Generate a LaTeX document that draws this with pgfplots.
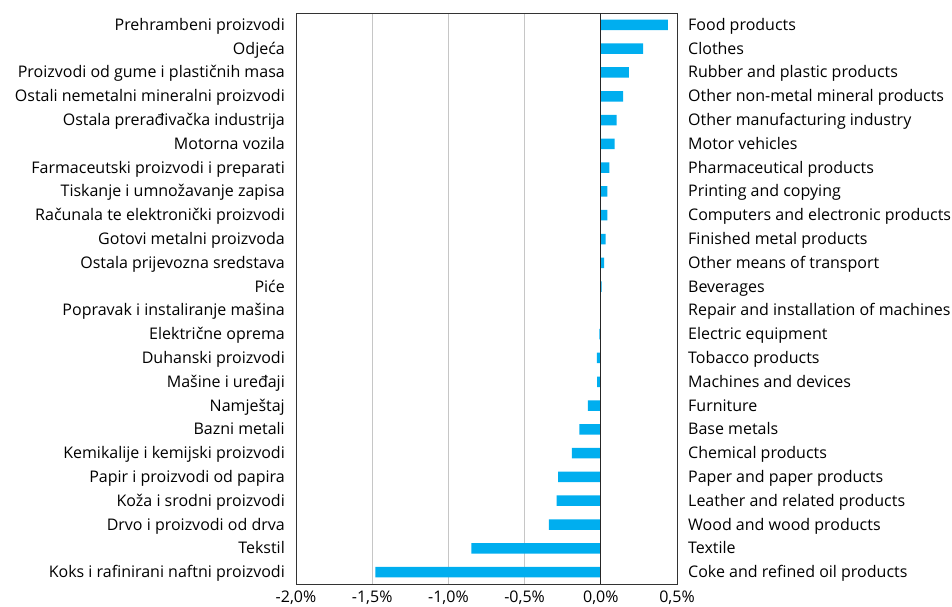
\documentclass[border=0pt]{standalone}
\usepackage{fontspec}
\setmainfont{Open Sans}
\usepackage{pgfplots}
\pgfplotsset{compat=1.18}
\definecolor{barblue}{RGB}{0,174,239}

\begin{document}
\begin{tikzpicture}[x=1pt,y=1pt]
\path[use as bounding box] (0,0) rectangle (952,607);
\begin{axis}[at={(296pt,23pt)}, anchor=south west, scale only axis,
  width=381pt, height=571pt,
  xbar, bar width=10.5pt,
  xmin=-2, xmax=0.5, ymin=-0.5, ymax=23.5,
  xtick={-2,-1.5,-1,-0.5,0,0.5},
  xticklabels={{-2,0\%},{-1,5\%},{-1,0\%},{-0,5\%},{0,0\%},{0,5\%}},
  ytick={0,...,23},
  yticklabels={Koks i rafinirani naftni proizvodi, Tekstil, Drvo i proizvodi od drva,
    Koža i srodni proizvodi, Papir i proizvodi od papira, Kemikalije i kemijski proizvodi,
    Bazni metali, Namještaj, Mašine i uređaji, Duhanski proizvodi, Električne oprema,
    Popravak i instaliranje mašina, Piće, Ostala prijevozna sredstava,
    Gotovi metalni proizvoda, Računala te elektronički proizvodi,
    Tiskanje i umnožavanje zapisa, Farmaceutski proizvodi i preparati,
    Motorna vozila, Ostala prerađivačka industrija,
    Ostali nemetalni mineralni proizvodi, Proizvodi od gume i plastičnih masa,
    Odjeća, Prehrambeni proizvodi},
  major tick length=0,
  xmajorgrids, grid style={gray!45, line width=1pt},
  axis line style={black!80, line width=0.9pt},
  tick label style={font=\fontsize{16}{18}\selectfont},
  yticklabel style={inner sep=0pt, xshift=-11pt, text height=12pt, text depth=1pt},
  xticklabel style={inner sep=0pt, yshift=-7pt, text height=11.5pt, text depth=0.5pt},
]
\addplot[draw=none, fill=barblue] coordinates {
  (-1.48,0) (-0.85,1) (-0.34,2) (-0.29,3) (-0.28,4) (-0.19,5)
  (-0.14,6) (-0.085,7) (-0.024,8) (-0.026,9) (-0.01,10) (0,11)
  (0.005,12) (0.021,13) (0.032,14) (0.043,15) (0.043,16) (0.056,17)
  (0.091,18) (0.104,19) (0.147,20) (0.184,21) (0.277,22) (0.44,23)};
\draw[black!85, line width=1pt] (axis cs:0,-0.5) -- (axis cs:0,23.5);
\end{axis}
\begin{axis}[at={(296pt,23pt)}, anchor=south west, scale only axis,
  width=381pt, height=571pt,
  xmin=-2, xmax=0.5, ymin=-0.5, ymax=23.5,
  axis line style={draw=none}, xtick=\empty,
  ytick={0,...,23}, yticklabel pos=right, major tick length=0,
  yticklabels={Coke and refined oil products, Textile, Wood and wood products,
    Leather and related products, Paper and paper products, Chemical products,
    Base metals, Furniture, Machines and devices, Tobacco products,
    Electric equipment, Repair and installation of machines, Beverages,
    Other means of transport, Finished metal products,
    Computers and electronic products, Printing and copying,
    Pharmaceutical products, Motor vehicles, Other manufacturing industry,
    Other non-metal mineral products, Rubber and plastic products,
    Clothes, Food products},
  tick label style={font=\fontsize{16}{18}\selectfont},
  yticklabel style={inner sep=0pt, xshift=11pt, anchor=west, text height=12pt, text depth=1pt},
]
\end{axis}
\end{tikzpicture}
\end{document}
